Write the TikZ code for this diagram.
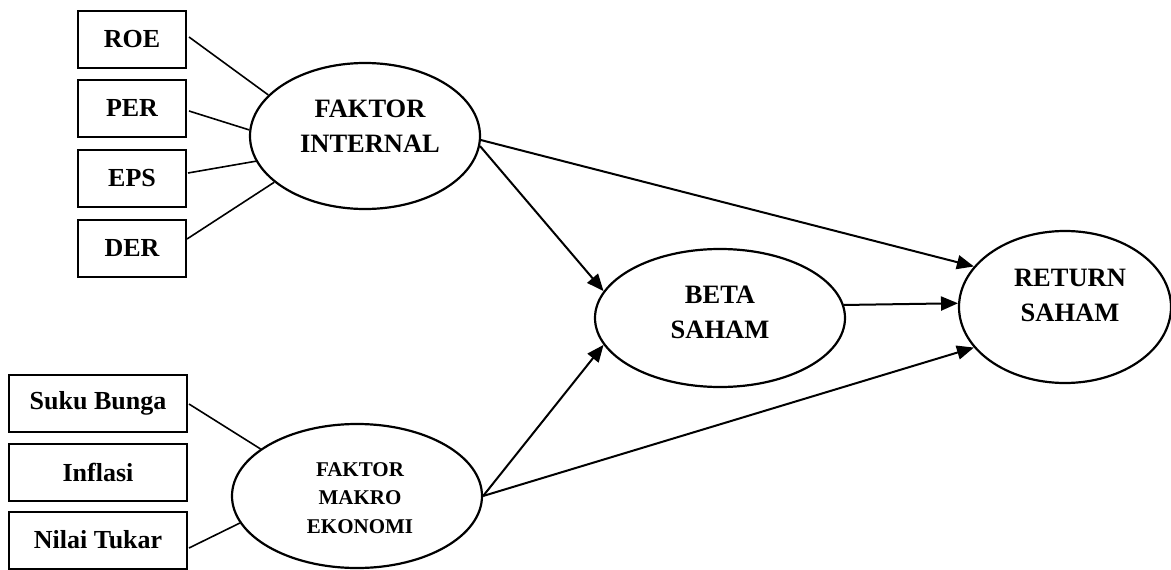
\documentclass[tikz,border=0pt]{standalone}
\usepackage{fontspec}
\setmainfont{Liberation Serif}
\usetikzlibrary{arrows.meta,shapes.geometric}
\begin{document}
\begin{tikzpicture}[x=1pt,y=-1pt,
  box/.style={draw,line width=2pt,minimum height=57pt,inner sep=0pt,font=\bfseries\fontsize{26}{30}\selectfont},
  ell/.style={draw,ellipse,line width=2.2pt,inner sep=0pt},
  lbl/.style={align=center,font=\bfseries\fontsize{26.5}{35}\selectfont},
  slbl/.style={align=center,font=\bfseries\fontsize{21}{28.5}\selectfont},
  conn/.style={line width=1.6pt},
  arr/.style={line width=2pt,-{Triangle[length=17pt,width=14pt]}}]
\useasboundingbox (0,0) rectangle (1171,570);
% boxes
\node[box,minimum width=108pt] (roe) at (132,39.5) {ROE};
\node[box,minimum width=108pt] (per) at (132,108) {PER};
\node[box,minimum width=108pt] (eps) at (132,178) {EPS};
\node[box,minimum width=108pt] (der) at (132,248) {DER};
\node[box,minimum width=178pt] (suku) at (98,403.5) {Suku Bunga};
\node[box,minimum width=178pt] (infl) at (98,472) {Inflasi};
\node[box,minimum width=178pt] (nilai) at (98,540) {Nilai Tukar};
% ellipses
\node[ell,minimum width=230pt,minimum height=146pt] (fi) at (365,136) {};
\node[ell,minimum width=250pt,minimum height=144pt] (fm) at (357,496) {};
\node[ell,minimum width=250pt,minimum height=138pt] (beta) at (720,318) {};
\node[ell,minimum width=212pt,minimum height=152pt] (ret) at (1065,307) {};
% labels
\node[lbl] (fit) at (370,126) {FAKTOR\\INTERNAL};
\node[slbl] (fmt) at (360,498) {FAKTOR\\MAKRO\\EKONOMI};
\node[lbl] (betat) at (720,312) {BETA\\SAHAM};
\node[lbl] (rett) at (1070,295) {RETURN\\SAHAM};
% indicator lines
\draw[conn] ([shift={(2,-2.5)}]roe.east) -- (fi.157.6);
\draw[conn] ([shift={(2,3)}]per.east) -- (fi.177.5);
\draw[conn] ([shift={(1,-5)}]eps.east) -- (fi.193.4);
\draw[conn] ([shift={(0,-9)}]der.east) -- (fi.207);
\draw[conn] ([shift={(1,0.5)}]suku.east) -- (fm.154.6);
\draw[conn] ([shift={(1,8)}]nilai.east) -- (fm.193.7);
% arrows
\draw[arr] (fi.-2) -- (ret.156.8);
\draw[arr] (fi.-5) -- (beta.167.6);
\draw[arr] (beta.6.5) -- (ret.178.4);
\draw[arr] (fm.east) -- (beta.193.3);
\draw[arr] (fm.east) -- (ret.204.4);
\end{tikzpicture}
\end{document}
